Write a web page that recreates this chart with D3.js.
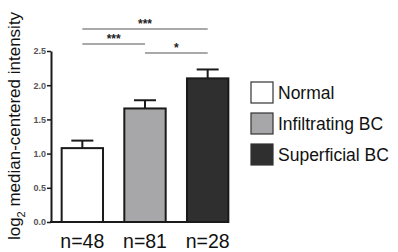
<!DOCTYPE html>
<html>
<head>
<meta charset="utf-8">
<script src="https://cdn.jsdelivr.net/npm/d3@7"></script>
<style>
  body { margin: 0; background: #fff; }
  svg { display: block; font-family: "Liberation Sans", Arial, sans-serif; }
</style>
</head>
<body>
<div id="chart"></div>
<script>
const groups = ["Normal", "Infiltrating BC", "Superficial BC"];
const counts = ["n=48", "n=81", "n=28"];
const means = [1.08, 1.66, 2.10];
const errors = [0.11, 0.12, 0.13];
const colors = ["#ffffff", "#a7a7a9", "#2f2f2f"];
const yTicks = [0.0, 0.5, 1.0, 1.5, 2.0, 2.5];
const comparisons = [
  { from: 0, to: 2, label: "***", level: 2 },
  { from: 0, to: 1, label: "***", level: 1 },
  { from: 1, to: 2, label: "*", level: 0 }
];

const W = 398, H = 252;
const svg = d3.select("#chart").append("svg").attr("width", W).attr("height", H);

const x = d3.scaleBand().domain(groups).range([51, 239]).paddingInner(0.34).paddingOuter(0.17);
const y = d3.scaleLinear().domain([0, 2.5]).range([222, 51]);

// bars
svg.selectAll("rect.bar")
  .data(groups)
  .join("rect")
  .attr("class", "bar")
  .attr("x", d => x(d))
  .attr("y", (d, i) => y(means[i]))
  .attr("width", x.bandwidth())
  .attr("height", (d, i) => y(0) - y(means[i]))
  .attr("fill", (d, i) => colors[i])
  .attr("stroke", "#1a1a1a")
  .attr("stroke-width", 2);

// error bars (upper only)
const eb = svg.append("g").attr("stroke", "#1a1a1a").attr("stroke-width", 2);
groups.forEach((g, i) => {
  const cx = x(g) + x.bandwidth() / 2;
  eb.append("line").attr("x1", cx).attr("x2", cx)
    .attr("y1", y(means[i])).attr("y2", y(means[i] + errors[i]));
  eb.append("line").attr("x1", cx - 11).attr("x2", cx + 11)
    .attr("y1", y(means[i] + errors[i])).attr("y2", y(means[i] + errors[i]));
});

// y axis
const yAxis = svg.append("g")
  .attr("transform", "translate(51,0)")
  .call(d3.axisLeft(y).tickValues(yTicks).tickFormat(d3.format(".1f")).tickSize(4).tickSizeOuter(0));
yAxis.select(".domain").attr("stroke", "#1a1a1a").attr("stroke-width", 2);
yAxis.selectAll(".tick line").attr("stroke", "#1a1a1a").attr("stroke-width", 1.5);
yAxis.selectAll(".tick text")
  .attr("font-size", 9).attr("font-weight", "bold").attr("fill", "#555")
  .attr("font-family", "Liberation Sans, Arial, sans-serif").attr("x", -5);

// x axis baseline
svg.append("line")
  .attr("x1", 50).attr("x2", 229)
  .attr("y1", y(0)).attr("y2", y(0))
  .attr("stroke", "#1a1a1a").attr("stroke-width", 2);

// x labels
svg.selectAll("text.n")
  .data(groups)
  .join("text")
  .attr("class", "n")
  .attr("x", d => x(d) + x.bandwidth() / 2)
  .attr("y", 248)
  .attr("text-anchor", "middle")
  .attr("font-size", 19.5)
  .attr("fill", "#111")
  .text((d, i) => counts[i]);

// y label
const yl = svg.append("text")
  .attr("transform", "translate(20,126) rotate(-90)")
  .attr("text-anchor", "middle")
  .attr("font-size", 17)
  .attr("fill", "#111");
yl.append("tspan").text("log");
yl.append("tspan").attr("font-size", 11).attr("dy", 5).text("2");
yl.append("tspan").attr("dy", -5).text(" median-centered intensity");

// significance brackets
const levelY = [53, 44, 29];
comparisons.forEach(c => {
  const x1 = x(groups[c.from]) + x.bandwidth() / 2;
  const x2 = x(groups[c.to]) + x.bandwidth() / 2;
  const ly = levelY[c.level];
  svg.append("line")
    .attr("x1", x1).attr("x2", x2).attr("y1", ly).attr("y2", ly)
    .attr("stroke", "#555").attr("stroke-width", 1.2);
  svg.append("text")
    .attr("x", (x1 + x2) / 2).attr("y", ly - 1)
    .attr("text-anchor", "middle")
    .attr("font-size", 12).attr("font-weight", "bold").attr("fill", "#222")
    .text(c.label);
});

// legend
const legend = svg.append("g").attr("transform", "translate(251,82)");
groups.forEach((g, i) => {
  const row = legend.append("g").attr("transform", `translate(0,${i * 31})`);
  row.append("rect").attr("width", 22).attr("height", 21)
    .attr("fill", colors[i]).attr("stroke", "#333").attr("stroke-width", 1.2);
  row.append("text").attr("x", 27).attr("y", 17)
    .attr("font-size", 17.5).attr("fill", "#111").text(g);
});
</script>
</body>
</html>
